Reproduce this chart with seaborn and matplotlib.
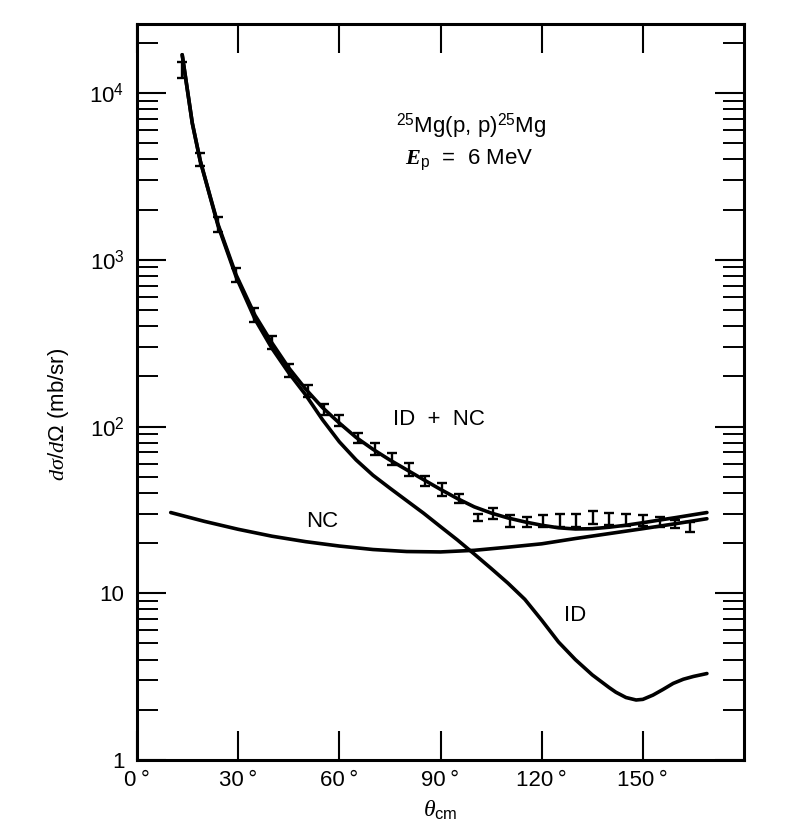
import numpy as np
import pandas as pd
import matplotlib
matplotlib.use("Agg")
import matplotlib.pyplot as plt
import seaborn as sns
from matplotlib.ticker import FixedLocator, FixedFormatter, LogLocator, NullFormatter, NullLocator

# ---------------- data ----------------
# measured 25Mg(p,p) cross sections with error bars
theta_data = [13.4, 18.7, 24.0, 29.4, 34.7, 40.0, 45.0, 50.7, 55.5, 60.0,
              65.6, 70.6, 75.7, 80.7, 85.5, 90.5, 95.5, 101.0, 105.7, 110.7,
              115.7, 120.5, 125.5, 130.3, 135.3, 140.0, 145.0, 150.0, 155.0,
              159.4, 164.0]
xsec_data = [13800, 3980, 1620, 812, 465, 318, 218, 163, 126, 108,
             85, 73, 64, 55, 47, 41.7, 36.8, 28.3, 29.9, 27.3,
             26.8, 27.3, 27.5, 27.5, 28.3, 27.9, 27.5, 27.2, 26.8,
             26.0, 25.0]
rel_err = [0.117, 0.094, 0.109, 0.102, 0.102, 0.094, 0.094, 0.086, 0.079, 0.079,
           0.072, 0.086, 0.086, 0.094, 0.072, 0.094, 0.064, 0.050, 0.079, 0.086,
           0.072, 0.086, 0.094, 0.094, 0.094, 0.086, 0.086, 0.079, 0.072,
           0.057, 0.072]

# ID + NC curve
theta_idnc = [13.4, 16.4, 18.7, 21.7, 24.0, 29.4, 35, 40, 45, 50, 55, 60, 65, 70,
              75, 80, 85, 90, 95, 100, 105, 110, 115, 120, 125, 130, 135, 140,
              145, 150, 155, 160, 165, 169]
xsec_idnc = [17000, 6600, 3980, 2400, 1640, 812, 465, 318, 225, 168, 130, 105, 86, 73,
             63, 55, 48, 42, 37, 33, 30.3, 28.3, 26.8, 25.6, 24.7, 24.3, 24.4, 24.9,
             25.6, 26.5, 27.5, 28.5, 29.6, 30.5]

# NC curve
theta_nc = [10, 20, 30, 40, 50, 60, 70, 80, 90, 100, 110, 120, 130, 140, 150, 160, 169]
xsec_nc = [30.5, 27.0, 24.2, 22.0, 20.4, 19.2, 18.3, 17.8, 17.7, 18.1, 18.9, 19.8,
           21.3, 22.8, 24.4, 26.2, 28.0]

# ID curve
theta_id = [13.4, 16.4, 18.7, 21.7, 24.0, 29.4, 35, 40, 45, 50, 55, 60, 65, 70, 75,
            80, 85, 90, 95, 100, 105, 110, 115, 120, 125, 130, 135, 140, 142, 145,
            148, 150, 153, 156, 159, 162, 165, 169]
xsec_id = [17000, 6600, 3950, 2380, 1610, 790, 440, 295, 210, 155, 110, 81, 63, 51, 42.7,
           35.9, 30.2, 25.1, 20.9, 17.2, 14.1, 11.5, 9.2, 6.9, 5.1, 4.0, 3.24, 2.72, 2.55, 2.37,
           2.29, 2.31, 2.45, 2.65, 2.88, 3.05, 3.17, 3.3]

x_ticks = [0, 30, 60, 90, 120, 150]
x_ticklabels = ["0\u2009°", "30\u2009°", "60\u2009°", "90\u2009°", "120\u2009°", "150\u2009°"]
y_ticks = [1, 10, 100, 1000, 10000]
y_ticklabels = ["1", "10", r"$10^{2}$", r"$10^{3}$", r"$10^{4}$"]

# ---------------- style ----------------
sns.set_style("ticks")
plt.rcParams["font.family"] = ["Liberation Sans", "DejaVu Sans"]
plt.rcParams["mathtext.fontset"] = "custom"
plt.rcParams["mathtext.rm"] = "Liberation Sans"
plt.rcParams["mathtext.it"] = "Liberation Serif:italic"
plt.rcParams["mathtext.bf"] = "Liberation Serif:italic:bold"
plt.rcParams["mathtext.sf"] = "Liberation Sans"
plt.rcParams["text.color"] = "black"
plt.rcParams["axes.labelcolor"] = "black"
plt.rcParams["xtick.color"] = "black"
plt.rcParams["ytick.color"] = "black"

fig = plt.figure(figsize=(8, 8.38), dpi=100)
ax = fig.add_axes([0.17125, 0.0931, 0.75875, 0.8783])

curves = pd.concat([
    pd.DataFrame({"theta": theta_idnc, "xsec": xsec_idnc, "curve": "ID + NC"}),
    pd.DataFrame({"theta": theta_nc, "xsec": xsec_nc, "curve": "NC"}),
    pd.DataFrame({"theta": theta_id, "xsec": xsec_id, "curve": "ID"}),
], ignore_index=True)

sns.lineplot(data=curves, x="theta", y="xsec", units="curve", estimator=None,
             sort=False, color="black", linewidth=2.6, ax=ax, legend=False)
for ln in ax.get_lines():
    ln.set_solid_joinstyle("round")
    ln.set_solid_capstyle("round")

xd = np.array(xsec_data)
rd = np.array(rel_err)
lower = xd - xd / (1 + rd)
upper = xd * rd
ax.errorbar(theta_data, xd, yerr=[lower, upper], fmt="none", ecolor="black",
            elinewidth=1.7, capsize=3.8, capthick=1.7)

ax.set_yscale("log")
ax.set_xlim(0, 180)
ax.set_ylim(1, 26000)

ax.xaxis.set_major_locator(FixedLocator(x_ticks))
ax.xaxis.set_major_formatter(FixedFormatter(x_ticklabels))
ax.xaxis.set_minor_locator(NullLocator())
ax.yaxis.set_major_locator(FixedLocator(y_ticks))
ax.yaxis.set_major_formatter(FixedFormatter(y_ticklabels))
ax.yaxis.set_minor_locator(LogLocator(base=10, subs=np.arange(2, 10)))
ax.yaxis.set_minor_formatter(NullFormatter())

ax.tick_params(which="major", direction="in", length=21, width=1.5,
               left=True, right=True, top=True, bottom=True,
               labelsize=16, colors="black")
ax.tick_params(axis="y", which="major", pad=9)
ax.tick_params(axis="x", which="major", pad=7)
ax.tick_params(which="minor", direction="in", length=15, width=1.4,
               left=True, right=True)

for s in ax.spines.values():
    s.set_linewidth(2.2)
    s.set_color("black")

ax.set_xlabel(r"$\theta_{\rm cm}$", fontsize=17, labelpad=6)
ax.set_ylabel(r"$d\sigma/d\Omega$ (mb/sr)", fontsize=16)
ax.yaxis.set_label_coords(-0.108, 0.47)

ax.text(99, 6300, r"$^{25}$Mg(p, p)$^{25}$Mg", ha="center", va="center", fontsize=16)
ax.text(98.5, 4000, r"$\mathbf{E}_{\rm p}$  =  6 MeV", ha="center", va="center", fontsize=16)
ax.text(89.5, 110, "ID  +  NC", ha="center", va="center", fontsize=16)
ax.text(55, 27, "NC", ha="center", va="center", fontsize=16)
ax.text(130, 7.4, "ID", ha="center", va="center", fontsize=16)

fig.savefig("out.png", dpi=100)
